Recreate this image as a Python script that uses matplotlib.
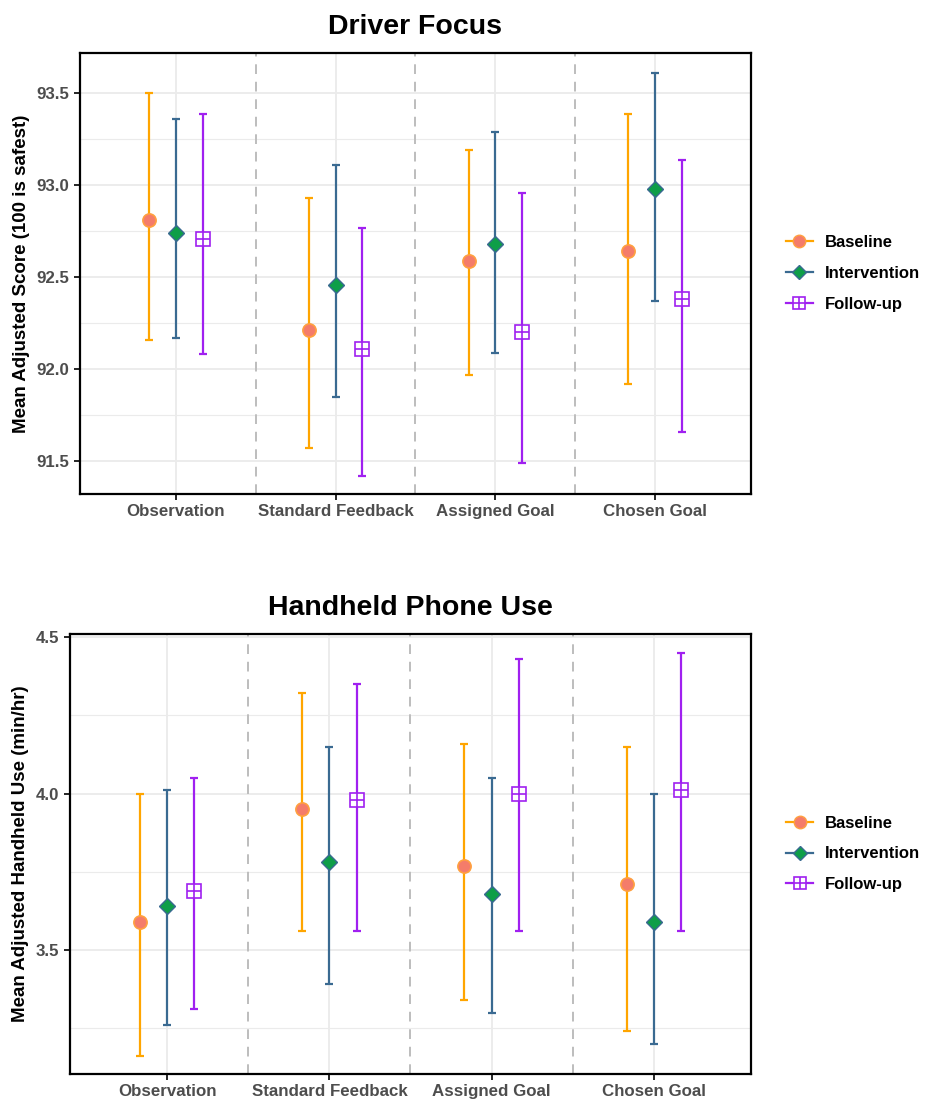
import matplotlib
matplotlib.use("Agg")
import matplotlib.pyplot as plt
import numpy as np
from matplotlib.lines import Line2D
from matplotlib.legend_handler import HandlerTuple

plt.rcParams["font.family"] = ["Liberation Sans", "DejaVu Sans"]
plt.rcParams["font.weight"] = "bold"

CONDITIONS = ["Observation", "Standard Feedback", "Assigned Goal", "Chosen Goal"]
PHASES = ["Baseline", "Intervention", "Follow-up"]

# Driver Focus: mean, lower, upper per phase (rows) and condition (cols)
focus_mean = [
	[92.81, 92.21, 92.59, 92.64],
	[92.74, 92.46, 92.68, 92.98],
	[92.71, 92.11, 92.20, 92.38],
]
focus_low = [
	[92.16, 91.57, 91.97, 91.92],
	[92.17, 91.85, 92.09, 92.37],
	[92.08, 91.42, 91.49, 91.66],
]
focus_high = [
	[93.50, 92.93, 93.19, 93.39],
	[93.36, 93.11, 93.29, 93.61],
	[93.39, 92.77, 92.96, 93.14],
]

# Handheld phone use (min/hr)
phone_mean = [
	[3.59, 3.95, 3.77, 3.71],
	[3.64, 3.78, 3.68, 3.59],
	[3.69, 3.98, 4.00, 4.01],
]
phone_low = [
	[3.16, 3.56, 3.34, 3.24],
	[3.26, 3.39, 3.30, 3.20],
	[3.31, 3.56, 3.56, 3.56],
]
phone_high = [
	[4.00, 4.32, 4.16, 4.15],
	[4.01, 4.15, 4.05, 4.00],
	[4.05, 4.35, 4.43, 4.45],
]

BAR_COLORS = ["#FFA500", "#3A6A91", "#A020F0"]
OFFSETS = [-0.167, 0.0, 0.167]
GRID = "#EBEBEB"
TICK_GRAY = "#4D4D4D"


def draw_markers(ax, x, y, k):
	if k == 0:
		ax.plot(x, y, "o", ms=9.5, mfc="#F47C6A", mec="#FFA040", mew=1.2, ls="none", zorder=4)
	elif k == 1:
		ax.plot(x, y, "D", ms=8, mfc="#0E9E48", mec="#3A6A91", mew=1.0, ls="none", zorder=4)
	else:
		ax.plot(x, y, "s", ms=9.5, mfc="white", mec=BAR_COLORS[2], mew=1.2, ls="none", zorder=4)
		ax.plot(x, y, "+", ms=9.5, mec=BAR_COLORS[2], mew=1.2, ls="none", zorder=5)


def panel(ax, title, ylabel, means, lows, highs, ylim, major, minor):
	x = np.arange(1, len(CONDITIONS) + 1)
	for k in range(len(PHASES)):
		m = np.array(means[k])
		lo = np.array(lows[k])
		hi = np.array(highs[k])
		ax.errorbar(x + OFFSETS[k], m, yerr=[m - lo, hi - m], fmt="none",
			ecolor=BAR_COLORS[k], elinewidth=1.6, capsize=3, capthick=1.6, zorder=3)
		draw_markers(ax, x + OFFSETS[k], m, k)
	for sep in x[:-1] + 0.5:
		ax.axvline(sep, color="#BDBDBD", ls=(0, (5, 4)), lw=1.4, zorder=2)
	ax.set_xlim(0.4, 4.6)
	ax.set_ylim(*ylim)
	ax.set_xticks(x)
	ax.set_xticklabels(CONDITIONS)
	ax.set_yticks(major)
	ax.set_yticks(minor, minor=True)
	ax.yaxis.set_major_formatter(matplotlib.ticker.FormatStrFormatter("%.1f"))
	ax.grid(which="major", color=GRID, lw=1.3, zorder=0)
	ax.grid(which="minor", axis="y", color=GRID, lw=0.8, zorder=0)
	ax.set_axisbelow(True)
	ax.tick_params(axis="both", which="major", labelsize=12.2, labelcolor=TICK_GRAY,
		length=4, width=1.2, color="black")
	ax.tick_params(axis="y", which="minor", length=0)
	for lab in ax.get_xticklabels() + ax.get_yticklabels():
		lab.set_fontweight("bold")
	for sp in ax.spines.values():
		sp.set_linewidth(1.6)
		sp.set_color("black")
	ax.set_ylabel(ylabel, fontsize=13.5, fontweight="bold", labelpad=5)
	ax.set_title(title, fontsize=20.5, fontweight="bold", pad=14)

	handles = [
		(Line2D([], [], color=BAR_COLORS[0], lw=1.6),
		 Line2D([], [], marker="o", ms=9, mfc="#F47C6A", mec="#FFA040", ls="none")),
		(Line2D([], [], color=BAR_COLORS[1], lw=1.6),
		 Line2D([], [], marker="D", ms=7.5, mfc="#0E9E48", mec="#3A6A91", ls="none")),
		(Line2D([], [], color=BAR_COLORS[2], lw=1.6),
		 Line2D([], [], marker="s", ms=8, mfc="white", mec=BAR_COLORS[2], mew=1.2, ls="none"),
		 Line2D([], [], marker="+", ms=8, mec=BAR_COLORS[2], mew=1.2, ls="none")),
	]
	ax.legend(handles, PHASES, handler_map={tuple: HandlerTuple(ndivide=1, pad=0)},
		loc="center left", bbox_to_anchor=(1.035, 0.5), frameon=False, borderpad=0.2,
		prop={"weight": "bold", "size": 12}, handlelength=1.6, handletextpad=0.7,
		labelspacing=0.95)


fig = plt.figure(figsize=(9.26, 10.99), dpi=100)
ax1 = fig.add_axes([0.0864, 0.5505, 0.811 - 0.0864, 0.9518 - 0.5505])
ax2 = fig.add_axes([0.0756, 0.0228, 0.811 - 0.0756, 0.4231 - 0.0228])

panel(ax1, "Driver Focus", "Mean Adjusted Score (100 is safest)",
	focus_mean, focus_low, focus_high, (91.32, 93.72),
	[91.5, 92.0, 92.5, 93.0, 93.5], [91.75, 92.25, 92.75, 93.25])
panel(ax2, "Handheld Phone Use", "Mean Adjusted Handheld Use (min/hr)",
	phone_mean, phone_low, phone_high, (3.104, 4.51),
	[3.5, 4.0, 4.5], [3.25, 3.75, 4.25])

fig.savefig("out.png", dpi=100)
